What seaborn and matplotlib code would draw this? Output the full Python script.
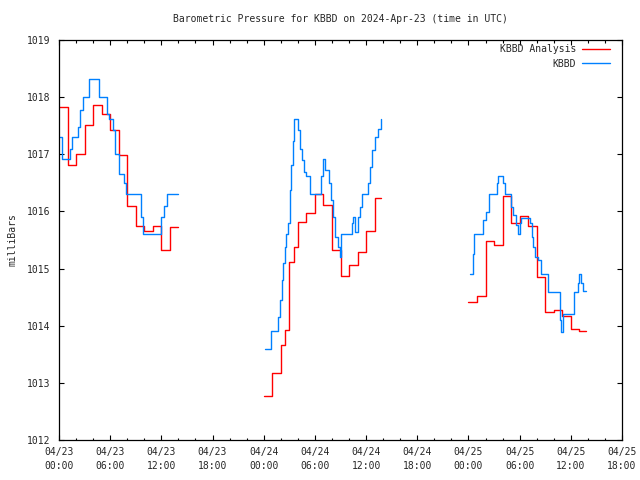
import numpy as np
import pandas as pd
import seaborn as sns
import matplotlib
matplotlib.use("Agg")
import matplotlib.pyplot as plt
from matplotlib.ticker import FixedLocator, MultipleLocator

# hours since 2024-04-23 00:00 UTC, pressure in mb
red_seg = [1] * 15 + [2] * 17 + [3] * 15
red_hours = [0, 1, 2, 3, 4, 5, 6, 7, 8, 9, 10, 11, 12, 13, 13.9,
             24, 25, 26, 26.5, 27, 27.5, 28, 29, 30, 31, 32, 33, 34, 35, 36, 37, 37.8,
             48, 49, 50, 51, 52, 53, 54, 55, 56, 57, 58, 59, 60, 61, 61.8]
red_mb = [1017.82, 1016.82, 1017.01, 1017.52, 1017.87, 1017.71, 1017.42, 1016.99,
          1016.10, 1015.75, 1015.65, 1015.74, 1015.32, 1015.72, 1015.72,
          1012.77, 1013.18, 1013.67, 1013.92, 1015.11, 1015.38, 1015.81, 1015.98,
          1016.31, 1016.11, 1015.32, 1014.87, 1015.06, 1015.29, 1015.65, 1016.23, 1016.23,
          1014.41, 1014.52, 1015.48, 1015.41, 1016.27, 1015.79, 1015.92, 1015.74,
          1014.86, 1014.24, 1014.28, 1014.17, 1013.95, 1013.90, 1013.90]

blue_seg = [1] * 22 + [2] * 42 + [3] * 32
blue_hours = [0.0, 0.4, 1.3, 1.5, 2.2, 2.5, 2.8, 3.5, 4.65, 5.6, 5.9, 6.3, 6.6, 7.0,
              7.6, 7.85, 9.6, 9.8, 12.0, 12.35, 12.65, 13.9,
              24.1, 24.9, 25.7, 25.9, 26.1, 26.3, 26.5, 26.65, 26.85, 27.05, 27.2, 27.4,
              27.6, 28.0, 28.3, 28.5, 28.7, 28.9, 29.4, 30.7, 30.9, 31.2, 31.6, 31.85,
              32.1, 32.4, 32.7, 32.9, 33.1, 34.3, 34.5, 34.7, 35.0, 35.25, 35.5, 36.2,
              36.5, 36.7, 37.0, 37.4, 37.7, 37.8,
              48.2, 48.5, 48.7, 49.7, 50.1, 50.4, 51.3, 51.5, 52.1, 52.3, 53.0, 53.2,
              53.6, 53.8, 54.0, 54.2, 55.2, 55.4, 55.6, 55.8, 56.2, 56.5, 57.3, 58.7,
              58.9, 59.1, 60.4, 60.8, 61.0, 61.2, 61.4, 61.8]
blue_mb = [1017.31, 1016.91, 1017.10, 1017.31, 1017.48, 1017.77, 1018.01, 1018.31,
           1018.01, 1017.71, 1017.61, 1017.42, 1017.01, 1016.65, 1016.50, 1016.30,
           1015.90, 1015.60, 1015.90, 1016.10, 1016.30, 1016.30,
           1013.60, 1013.91, 1014.16, 1014.45, 1014.80, 1015.09, 1015.38, 1015.61,
           1015.79, 1016.37, 1016.81, 1017.24, 1017.61, 1017.42, 1017.10, 1016.90,
           1016.69, 1016.62, 1016.30, 1016.62, 1016.91, 1016.72, 1016.49, 1016.20,
           1015.90, 1015.55, 1015.38, 1015.20, 1015.60, 1015.79, 1015.90, 1015.64,
           1015.90, 1016.08, 1016.30, 1016.49, 1016.78, 1017.07, 1017.30, 1017.45,
           1017.61, 1017.61,
           1014.90, 1015.26, 1015.60, 1015.85, 1015.99, 1016.30, 1016.49, 1016.62,
           1016.49, 1016.30, 1016.08, 1015.93, 1015.76, 1015.60, 1015.80, 1015.89,
           1015.79, 1015.55, 1015.38, 1015.20, 1015.15, 1014.90, 1014.59, 1014.10,
           1013.89, 1014.20, 1014.59, 1014.74, 1014.90, 1014.74, 1014.61, 1014.61]

x_ticks = list(range(0, 67, 6))
x_labels = ["04/23\n00:00", "04/23\n06:00", "04/23\n12:00", "04/23\n18:00",
            "04/24\n00:00", "04/24\n06:00", "04/24\n12:00", "04/24\n18:00",
            "04/25\n00:00", "04/25\n06:00", "04/25\n12:00", "04/25\n18:00"]
y_ticks = [1012, 1013, 1014, 1015, 1016, 1017, 1018, 1019]

df = pd.concat([
    pd.DataFrame({"hour": red_hours, "mb": red_mb, "seg": red_seg, "series": "KBBD Analysis"}),
    pd.DataFrame({"hour": blue_hours, "mb": blue_mb, "seg": blue_seg, "series": "KBBD"}),
], ignore_index=True)

sns.set_style("ticks")
plt.rcParams["font.family"] = ["DejaVu Sans Mono"]
plt.rcParams["font.size"] = 7

fig, ax = plt.subplots(figsize=(6.4, 4.8), dpi=100)
fig.subplots_adjust(left=59 / 640, right=622 / 640, bottom=40 / 480, top=440 / 480)

sns.lineplot(data=df, x="hour", y="mb", hue="series", units="seg", estimator=None,
             hue_order=["KBBD Analysis", "KBBD"],
             palette={"KBBD Analysis": "#ff0000", "KBBD": "#0080ff"},
             drawstyle="steps-post", linewidth=1.0, ax=ax, legend=True)

ax.set_xlim(0, 66)
ax.set_ylim(1012, 1019)
ax.xaxis.set_major_locator(FixedLocator(x_ticks))
ax.set_xticklabels(x_labels, linespacing=1.5)
ax.xaxis.set_minor_locator(MultipleLocator(2))
ax.yaxis.set_major_locator(FixedLocator(y_ticks))
ax.set_yticklabels([str(v) for v in y_ticks])
ax.tick_params(which="both", direction="in", top=True, right=True, color="black",
               labelsize=7, width=0.8)
ax.tick_params(which="major", length=3.5)
ax.tick_params(which="minor", length=1.8)
ax.tick_params(axis="x", pad=5)
ax.tick_params(axis="y", pad=6)
for sp in ax.spines.values():
    sp.set_color("black")
    sp.set_linewidth(0.9)

ax.set_xlabel("")
ax.set_ylabel("milliBars", fontsize=7, labelpad=7)
ax.set_title("Barometric Pressure for KBBD on 2024-Apr-23 (time in UTC)", fontsize=7, pad=13)

handles, labels = ax.get_legend_handles_labels()
ax.legend(handles, labels, loc="upper right", bbox_to_anchor=(0.979, 0.99),
          frameon=False, markerfirst=False, handlelength=2.9, handletextpad=0.6,
          labelspacing=0.5, borderaxespad=0, borderpad=0, fontsize=7)

fig.savefig("out.png", dpi=100, facecolor="white")
